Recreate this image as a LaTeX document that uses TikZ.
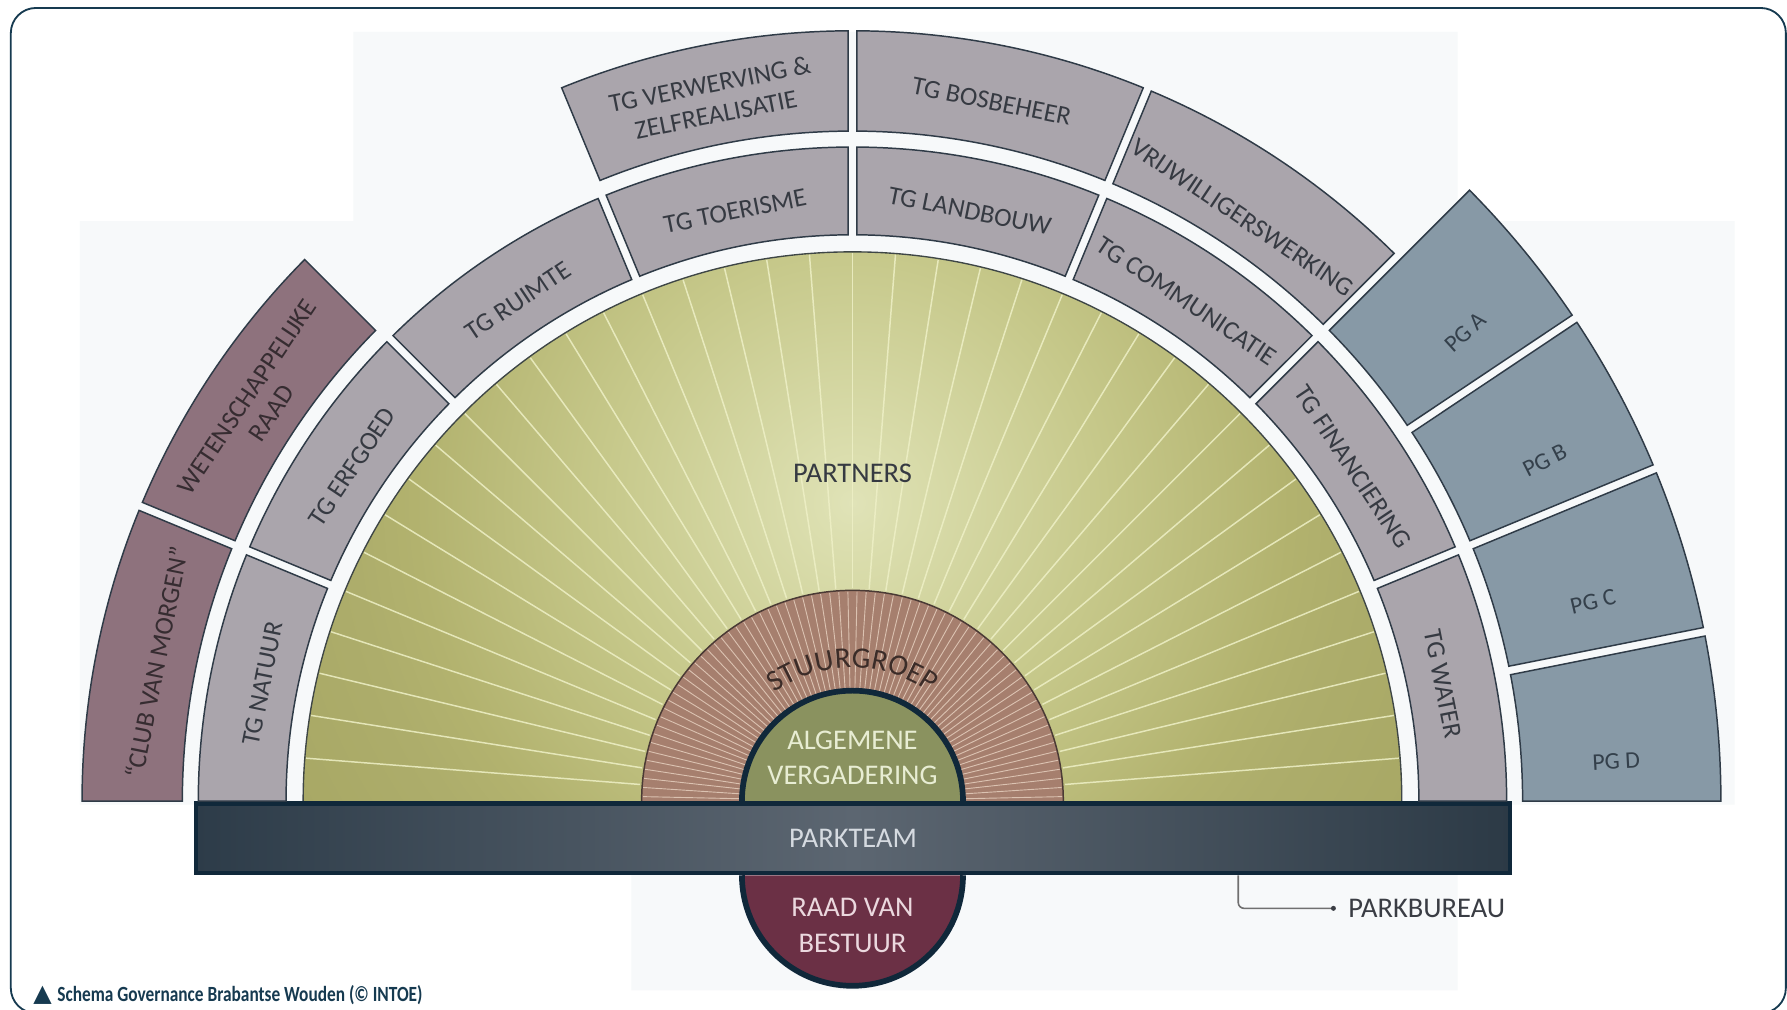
\documentclass[tikz,border=0pt]{standalone}
\usepackage{fontspec}
\usepackage{graphicx}
\setmainfont{Carlito}
\newfontfamily\symfont{DejaVu Sans}
\usetikzlibrary{decorations.text}

\definecolor{bgfaint}{HTML}{F7F9FA}
\definecolor{framec}{HTML}{163A50}
\definecolor{tggray}{HTML}{AAA5AC}
\definecolor{mauve}{HTML}{8E727D}
\definecolor{pgblue}{HTML}{8799A6}
\definecolor{segline}{HTML}{2F3B47}
\definecolor{lbltext}{HTML}{363A42}
\definecolor{mauvetext}{HTML}{362C31}
\definecolor{pgtext}{HTML}{34404B}
\definecolor{greenA}{HTML}{E0E3B8}
\definecolor{greenB}{HTML}{DCDFB0}
\definecolor{greenC}{HTML}{C6C88A}
\definecolor{greenD}{HTML}{B2B26E}
\definecolor{greenE}{HTML}{ADAD6B}
\definecolor{greenF}{HTML}{A8A865}
\definecolor{greenG}{HTML}{A6A663}
\definecolor{greenline}{HTML}{3E4646}
\definecolor{rayc}{HTML}{EEF0C6}
\definecolor{stuur}{HTML}{A67F6E}
\definecolor{stuurray}{HTML}{DBC2B1}
\definecolor{stuurline}{HTML}{4A3A35}
\definecolor{stext}{HTML}{3B2C28}
\definecolor{agreen}{HTML}{8A925F}
\definecolor{agtext}{HTML}{E8EDD3}
\definecolor{raad}{HTML}{6B3045}
\definecolor{raadtext}{HTML}{EBD8DE}
\definecolor{navy}{HTML}{10283A}
\definecolor{barL}{HTML}{2D3C49}
\definecolor{barM}{HTML}{5C6671}
\definecolor{barR}{HTML}{2C3A46}
\definecolor{bartext}{HTML}{D5DAE0}
\definecolor{pbline}{HTML}{707070}
\definecolor{pbtext}{HTML}{3A3D44}

% the central 25bp radius is mapped onto the shaded circle
\pgfdeclareradialshading{greenrad}{\pgfpoint{0bp}{0bp}}{color(0bp)=(greenA); color(1.25bp)=(greenB); color(9.2bp)=(greenC); color(16bp)=(greenD); color(18.3bp)=(greenE); color(23bp)=(greenF); color(25bp)=(greenG); color(50bp)=(greenG)}

\tikzset{
  seg/.style={draw=segline, line width=1.3pt, fill=#1},
  lbl/.style={font=\fontsize{23}{27}\selectfont, text=lbltext, align=center, inner sep=0pt},
  mlbl/.style={lbl, text=mauvetext},
  pglbl/.style={font=\fontsize{21}{24}\selectfont, text=pgtext, inner sep=0pt},
  greenray/.style={draw=rayc, line width=1.3pt, opacity=0.85},
  stuurrayline/.style={draw=stuurray, line width=0.8pt},
  bigtext/.style={font=\fontsize{25}{30}\selectfont, align=center, inner sep=0pt},
}

% #1 style, #2 start angle, #3 end angle, #4 inner r, #5 outer r, #6 gap at start, #7 gap at end
\newcommand\ringseg[7]{%
  \pgfmathsetmacro\aA{#2+asin(#6/#4)}%
  \pgfmathsetmacro\aB{#3-asin(#7/#4)}%
  \pgfmathsetmacro\aC{#3-asin(#7/#5)}%
  \pgfmathsetmacro\aD{#2+asin(#6/#5)}%
  \path[#1] (\aA:#4) arc[start angle=\aA, end angle=\aB, radius=#4] -- (\aC:#5) arc[start angle=\aC, end angle=\aD, radius=#5] -- cycle;}
\newcommand\stfont{\fontsize{26}{26}\selectfont\color{stext}}

\begin{document}
\begin{tikzpicture}[x=1pt,y=1pt]
\path[use as bounding box] (-748,-183) rectangle (820,703);
\clip (-748,-183) rectangle (820,703);
\fill[white] (-748,-183) rectangle (820,703);

% faint background of the original artwork
\fill[bgfaint] (-438,675) -- (531,675) -- (531,509) -- (774,509) -- (774,-3) -- (531,-3) -- (531,-166) -- (-194,-166) -- (-194,-3) -- (-678,-3) -- (-678,509) -- (-438,509) -- cycle;

% outer frame
\draw[framec, line width=1.6pt, rounded corners=22pt] (-738.5,-186) rectangle (819,696);

% partners half disc
\begin{scope}
  \clip (482,0) arc[start angle=0, end angle=180, radius=482] -- cycle;
  \shade[shading=greenrad] (0,262) circle[radius=600];
  \foreach \a in {4.5,9,...,175.5} \draw[greenray] (\a:187) -- (\a:481);
\end{scope}
\draw[greenline, line width=1.2pt] (482,0) arc[start angle=0, end angle=180, radius=482];

% stuurgroep ring
\fill[stuur] (185,0) arc[start angle=0, end angle=180, radius=185] -- cycle;
\foreach \a in {1.25,3.75,...,178.75} \draw[stuurrayline] (\a:98) -- (\a:184);
\draw[stuurline, line width=1.3pt] (185,0) arc[start angle=0, end angle=180, radius=185];
\path[decorate, decoration={text along path, text align=center, text={|\stfont|STUURGROEP}}]
  (150:117) arc[start angle=150, end angle=30, radius=117];

% algemene vergadering & raad van bestuur
\filldraw[fill=agreen, draw=navy, line width=5pt] (97,0) arc[start angle=0, end angle=180, radius=97];
\filldraw[fill=raad, draw=navy, line width=5pt] (97,-65) arc[start angle=0, end angle=-180, radius=97];

% parkteam bar
\node[draw=navy, line width=4pt, minimum width=1153pt, minimum height=61pt, inner sep=0pt,
      left color=barL, right color=barR, middle color=barM,
      font=\fontsize{25}{30}\selectfont, text=bartext] (parkteam) at (0.5,-32.5) {PARKTEAM};

% ring 1 (werkgroepen)
\ringseg{seg=tggray}{157.5}{180}{497}{574}{3.8}{0}
\ringseg{seg=tggray}{135}{157.5}{497}{574}{3.8}{3.8}
\ringseg{seg=tggray}{112.5}{135}{497}{574}{3.8}{3.8}
\ringseg{seg=tggray}{90}{112.5}{497}{574}{3.8}{3.8}
\ringseg{seg=tggray}{67.5}{90}{497}{574}{3.8}{3.8}
\ringseg{seg=tggray}{45}{67.5}{497}{574}{3.8}{3.8}
\ringseg{seg=tggray}{22.5}{45}{497}{574}{3.8}{3.8}
\ringseg{seg=tggray}{0}{22.5}{497}{574}{0}{3.8}

% ring 2
\ringseg{seg=mauve}{157.5}{180}{588}{676}{3.8}{0}
\ringseg{seg=mauve}{135}{157.5}{588}{676}{3.8}{3.8}
\ringseg{seg=tggray}{90}{112.5}{588}{676}{3.8}{3.8}
\ringseg{seg=tggray}{67.5}{90}{588}{676}{3.8}{3.8}
\ringseg{seg=tggray}{45}{67.5}{588}{676}{3.8}{3.8}

% PG blocks
\ringseg{seg=pgblue}{33.75}{45}{588}{762}{3.8}{3.8}
\ringseg{seg=pgblue}{22.5}{33.75}{588}{762}{3.8}{3.8}
\ringseg{seg=pgblue}{11.25}{22.5}{588}{762}{3.8}{3.8}
\ringseg{seg=pgblue}{0}{11.25}{588}{762}{0}{3.8}

% ring 1 labels
\node[lbl, rotate=78.75] (natuur) at (168.75:528) {TG NATUUR};
\node[lbl, rotate=56.25] (erfgoed) at (146.25:528) {TG ERFGOED};
\node[lbl, rotate=33.75] (ruimte) at (123.75:528) {TG RUIMTE};
\node[lbl, rotate=11.25] (toerisme) at (101.25:528) {TG TOERISME};
\node[lbl, rotate=-11.25] (landbouw) at (78.75:528) {TG LANDBOUW};
\node[lbl, rotate=-33.75] (communicatie) at (56.25:528) {TG COMMUNICATIE};
\node[lbl, rotate=-56.25] (financiering) at (33.75:528) {TG FINANCIERING};
\node[lbl, rotate=-78.75] (water) at (11.25:528) {TG WATER};

% ring 2 labels
\node[mlbl, rotate=78.75] (club) at (168.75:623) {“CLUB VAN MORGEN”};
\node[mlbl, rotate=56.25, font=\fontsize{23}{26}\selectfont] (wet) at (146.25:626) {WETENSCHAPPELIJKE\\RAAD};
\node[lbl, rotate=11.25, font=\fontsize{23}{27}\selectfont] (verwerving) at (101.25:628) {TG VERWERVING \&\\ZELFREALISATIE};
\node[lbl, rotate=-11.25] (bosbeheer) at (78.75:626) {TG BOSBEHEER};
\node[lbl, rotate=-33.75] (vrijwilligers) at (56.25:616) {VRIJWILLIGERSWERKING};

% PG labels
\node[pglbl, rotate=42] (pga) at (37.4:677) {PG A};
\node[pglbl, rotate=27] (pgb) at (26.2:677) {PG B};
\node[pglbl, rotate=13] (pgc) at (15.1:673) {PG C};
\node[pglbl, rotate=3] (pgd) at (3:671) {PG D};

% centre labels
\node[bigtext, text=lbltext] (partners) at (0,288) {PARTNERS};
\node[bigtext, text=agtext] (av) at (0,38) {ALGEMENE\\VERGADERING};
\node[bigtext, font=\fontsize{25}{32}\selectfont, text=raadtext] (rvb) at (0,-109) {RAAD VAN\\BESTUUR};

% parkbureau
\node[font=\fontsize{25}{30}\selectfont, text=pbtext, anchor=west, inner sep=0pt] (pb) at (435,-94) {PARKBUREAU};
\coordinate (pbx) at (338.5,0);
\coordinate (pbend) at ([xshift=-13pt]pb.west);
\draw[pbline, line width=1.4pt, rounded corners=5pt] (parkteam.south -| pbx) |- (pbend);
\fill[pbtext] (pbend) circle[radius=2.2];

% caption
\node[anchor=west, inner sep=0pt, text=framec, font=\bfseries\fontsize{19}{22}\selectfont] (cap) at (-719,-170)
  {{\symfont\fontsize{21}{22}\selectfont ▲}\hspace{5pt}\scalebox{0.8}[1]{Schema Governance Brabantse Wouden (© INTOE)}};
\end{tikzpicture}
\end{document}
